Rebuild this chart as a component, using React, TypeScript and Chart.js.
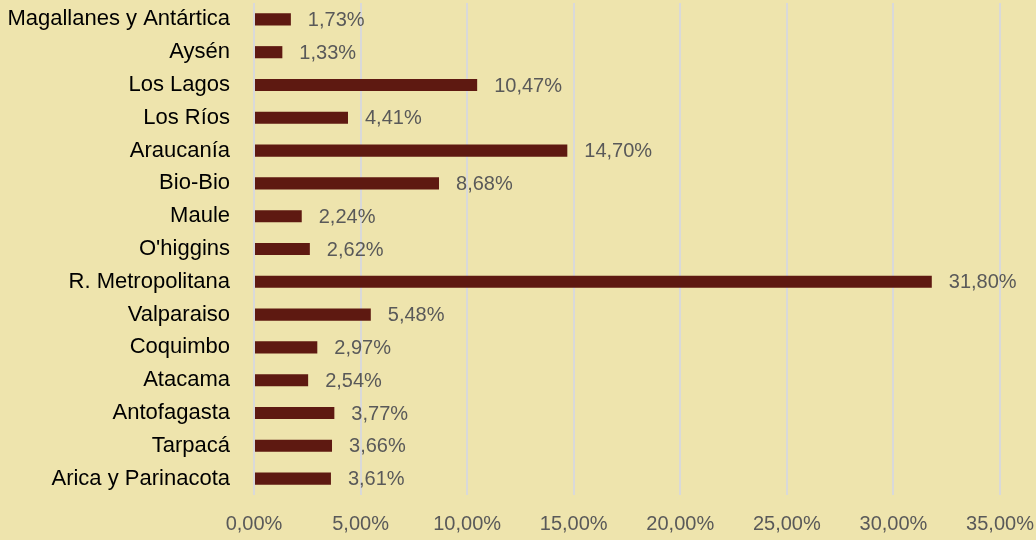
import React, { useEffect, useRef } from "react";
import { Chart, registerables } from "chart.js";

Chart.register(...registerables);

const regions = [
  "Magallanes y Antártica",
  "Aysén",
  "Los Lagos",
  "Los Ríos",
  "Araucanía",
  "Bio-Bio",
  "Maule",
  "O'higgins",
  "R. Metropolitana",
  "Valparaiso",
  "Coquimbo",
  "Atacama",
  "Antofagasta",
  "Tarpacá",
  "Arica y Parinacota",
];

const shares = [1.73, 1.33, 10.47, 4.41, 14.7, 8.68, 2.24, 2.62, 31.8, 5.48, 2.97, 2.54, 3.77, 3.66, 3.61];

const xTicks = [0, 5, 10, 15, 20, 25, 30, 35];

const FONT = "'Liberation Sans', Arial, sans-serif";

const fmt = (v: number) => v.toFixed(2).replace(".", ",") + "%";

const valueLabels = {
  id: "valueLabels",
  afterDatasetsDraw(chart: any) {
    const ctx = chart.ctx;
    const meta = chart.getDatasetMeta(0);
    ctx.save();
    ctx.font = `20px ${FONT}`;
    ctx.fillStyle = "#595959";
    ctx.textAlign = "left";
    ctx.textBaseline = "middle";
    meta.data.forEach((bar: any, i: number) => {
      ctx.fillText(fmt(shares[i]), bar.x + 17, bar.y + 1);
    });
    ctx.restore();
  },
};

export default function App() {
  const ref = useRef<HTMLCanvasElement>(null);
  useEffect(() => {
    if (!ref.current) return;
    const chart = new Chart(ref.current, {
      type: "bar",
      data: {
        labels: regions,
        datasets: [
          {
            data: shares,
            backgroundColor: "#5E1911",
            borderWidth: 0,
            categoryPercentage: 1,
            barPercentage: 0.37,
          },
        ],
      },
      options: {
        indexAxis: "y",
        animation: false,
        responsive: false,
        maintainAspectRatio: false,
        layout: { padding: { top: 3, right: 36, bottom: 0, left: 0 } },
        plugins: { legend: { display: false }, tooltip: { enabled: false } },
        scales: {
          x: {
            min: 0,
            max: 35,
            afterBuildTicks: (axis: any) => {
              axis.ticks = xTicks.map((v) => ({ value: v }));
            },
            afterFit: (axis: any) => {
              axis.height = 45;
              axis.paddingLeft = 0;
              axis.paddingRight = 0;
            },
            grid: { color: "#D9D9D9", lineWidth: 2, drawTicks: false },
            border: { display: false },
            ticks: {
              color: "#595959",
              font: { family: FONT, size: 20 },
              padding: 17,
              maxRotation: 0,
              minRotation: 0,
              autoSkip: false,
              callback: (v: any) => fmt(Number(v)),
            },
          },
          y: {
            grid: { display: false, drawTicks: false },
            border: { display: false },
            afterFit: (axis: any) => {
              axis.width = 254;
              axis.paddingTop = 0;
              axis.paddingBottom = 0;
            },
            ticks: {
              color: "#000000",
              font: { family: FONT, size: 22 },
              padding: 24,
              autoSkip: false,
            },
          },
        },
      },
      plugins: [valueLabels],
    });
    return () => chart.destroy();
  }, []);
  return (
    <div style={{ position: "fixed", left: 0, top: 0, width: 1036, height: 540, background: "#EEE4AD" }}>
      <canvas ref={ref} width={1036} height={540} style={{ display: "block" }} />
    </div>
  );
}
